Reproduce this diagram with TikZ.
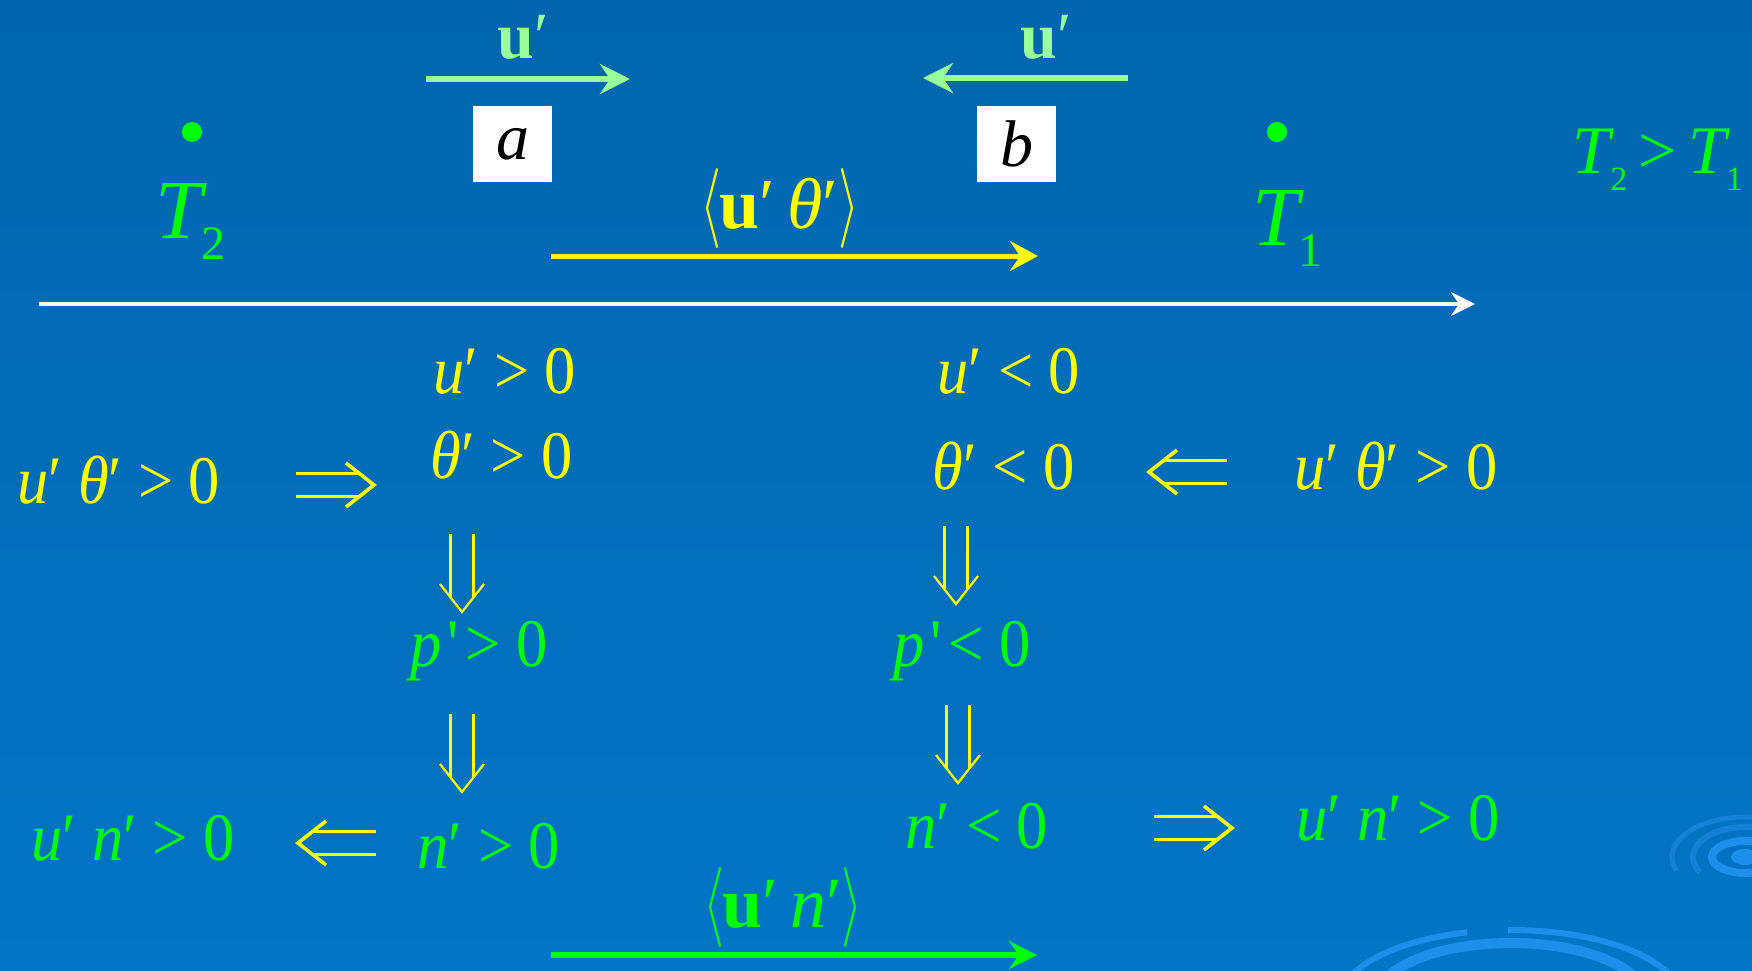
\documentclass[tikz,border=0pt]{standalone}
\usepackage{fontspec}
\setmainfont{Liberation Serif}
\usepackage{graphicx}
\usetikzlibrary{arrows.meta}
\definecolor{bgtop}{RGB}{1,102,173}
\definecolor{bgbot}{RGB}{2,117,198}
\definecolor{ylw}{RGB}{255,255,0}
\definecolor{grn}{RGB}{0,255,0}
\definecolor{lgrn}{RGB}{153,255,153}
\definecolor{swirlA}{RGB}{28,143,234}
\definecolor{swirlB}{RGB}{20,128,214}
\tikzset{
  eq/.style={inner sep=0pt, anchor=base west, font=\fontsize{34}{40}\selectfont},
  yl/.style={eq, text=ylw},
  gr/.style={eq, text=grn},
  tlabel/.style={inner sep=0pt, anchor=base west, text=grn, font=\fontsize{42}{42}\selectfont},
  dotn/.style={circle, fill=grn, inner sep=0pt, minimum size=10pt},
  letterbox/.style={fill=white, minimum width=39.5pt, minimum height=38pt, inner sep=0pt, text=black, font=\fontsize{33}{33}\selectfont},
  ulabel/.style={inner sep=0pt, anchor=base west, text=lgrn, font=\fontsize{33}{33}\selectfont},
  uarr/.style={draw=lgrn, line width=3pt, -{Stealth[length=15pt,width=15pt,inset=5pt]}},
  yarr/.style={draw=ylw, line width=2.5pt, -{Stealth[length=14pt,width=15pt,inset=5pt]}},
  warr/.style={draw=white, line width=2pt, -{Stealth[length=12pt,width=12pt,inset=4pt]}},
  garr/.style={draw=grn, line width=3pt, -{Stealth[length=14pt,width=14pt,inset=5pt]}},
  impl/.pic={\draw (-78,-11.5)--(-14,-11.5) (-78,11.5)--(-14,11.5);
             \draw[line join=miter] (-28,-22)--(0,0)--(-28,22);},
  implh/.style={color=ylw, line width=1.8pt},
  implv/.style={color=ylw, line width=1.1pt},
}
\newcommand{\lbr}{\resizebox*{10.5pt}{40pt}{$\langle$}}
\newcommand{\rbr}{\resizebox*{10.5pt}{40pt}{$\rangle$}}
\newcommand{\hs}[1]{\scalebox{0.92}[1]{#1}}
\newcommand{\pr}{\textquotesingle}
\begin{document}
\begin{tikzpicture}[x=0.5pt,y=-0.5pt]
\useasboundingbox (0,0) rectangle (1752,970);
\shade[top color=bgtop, bottom color=bgbot] (0,0) rectangle (1752,970);
% background swirls
\begin{scope}
\clip (0,0) rectangle (1752,970);
\draw[swirlA, line width=3pt] (1511,1000) ++(180:170 and 70) arc[start angle=180, end angle=255, x radius=170, y radius=70];
\draw[swirlA, line width=3pt] (1511,1000) ++(269:170 and 70) arc[start angle=269, end angle=360, x radius=170, y radius=70];
\draw[swirlA, line width=5pt] (1511,1000) ellipse[x radius=135, y radius=57];
\fill[swirlA] (1745,857) ellipse[x radius=14, y radius=8];
\draw[swirlA, line width=4pt] (1745,857) ellipse[x radius=33, y radius=16];
\draw[swirlB, line width=3pt] (1745,857) ++(150:52 and 30) arc[start angle=150, end angle=380, x radius=52, y radius=30];
\draw[swirlB, line width=2.5pt] (1745,857) ++(160:73 and 40) arc[start angle=160, end angle=370, x radius=73, y radius=40];
\end{scope}
% top u' arrows
\coordinate (ua1) at (426,79); \coordinate (ua2) at (630,79);
\coordinate (ub1) at (1128,78); \coordinate (ub2) at (923,78);
\draw[uarr] (ua1) -- (ua2);
\draw[uarr] (ub1) -- (ub2);
\node[ulabel] (ula) at (497,58) {\textbf{u}′};
\node[ulabel] (ulb) at (1020,58) {\textbf{u}′};
% boxes
\node[letterbox] (boxa) at (512.5,144) {\textit{a}};
\node[letterbox] (boxb) at (1016.5,144) {\textit{b}};
% temperatures
\node[dotn] (d2) at (192,132) {};
\node[dotn] (d1) at (1277,132) {};
\node[tlabel] (T2) at (155,238) {\textit{T}\kern-3pt\raisebox{-10.5pt}{\fontsize{24}{24}\selectfont 2}};
\node[tlabel] (T1) at (1252,245) {\textit{T}\kern-3pt\raisebox{-10.5pt}{\fontsize{24}{24}\selectfont 1}};
\node[eq, text=grn] (Tcmp) at (1572,173) {\textit{T}\kern-2pt\raisebox{-8.5pt}{\fontsize{17}{17}\selectfont 2}\,>\,\textit{T}\kern-2pt\raisebox{-8.5pt}{\fontsize{17}{17}\selectfont 1}};
% heat flux arrow
\node[yl, font=\fontsize{36}{36}\selectfont] (fluxT) at (700,228) {\lbr\kern-1pt\textbf{u}′\,\textit{θ}′\rbr};
\coordinate (y1) at (551,256); \coordinate (y2) at (1038,256);
\draw[yarr] (y1) -- (y2);
% axis
\coordinate (w1) at (39,304); \coordinate (w2) at (1475,304);
\draw[warr] (w1) -- (w2);
% left column
\node[yl] (uthL) at (17,503) {\hs{\textit{u}′ \textit{θ}′ > 0}};
\node[yl] (ugtA) at (433,393) {\hs{\textit{u}′ > 0}};
\node[yl] (thA) at (430,478) {\hs{\textit{θ}′ > 0}};
\node[gr] (pA) at (410,666) {\hs{\textit{p}\kern3pt\pr\kern4pt> 0}};
\node[gr] (nA) at (417,868) {\hs{\textit{n}′ > 0}};
\node[gr] (unL) at (31,860) {\hs{\textit{u}′ \textit{n}′ > 0}};
% right column
\node[yl] (ultB) at (937,393) {\hs{\textit{u}′ < 0}};
\node[yl] (thB) at (932,489) {\hs{\textit{θ}′ < 0}};
\node[yl] (uthR) at (1294,489) {\hs{\textit{u}′ \textit{θ}′ > 0}};
\node[gr] (pB) at (893,666) {\hs{\textit{p}\kern3pt\pr\kern4pt< 0}};
\node[gr] (nB) at (905,848) {\hs{\textit{n}′ < 0}};
\node[gr] (unR) at (1296,840) {\hs{\textit{u}′ \textit{n}′ > 0}};
% implications
\coordinate (i1) at (374,485);
\coordinate (i2) at (1149,472);
\coordinate (i3) at (298,843);
\coordinate (i4) at (1232,828);
\coordinate (i5) at (462,612);
\coordinate (i6) at (956,604);
\coordinate (i7) at (462,792);
\coordinate (i8) at (958,783);
\pic[implh] at (i1) {impl};
\pic[implh, rotate=180] at (i2) {impl};
\pic[implh, rotate=180] at (i3) {impl};
\pic[implh] at (i4) {impl};
\pic[implv, rotate=-90] at (i5) {impl};
\pic[implv, rotate=-90] at (i6) {impl};
\pic[implv, rotate=-90] at (i7) {impl};
\pic[implv, rotate=-90] at (i8) {impl};
% particle flux
\node[gr, font=\fontsize{36}{36}\selectfont] (fluxN) at (703,927) {\lbr\kern-1pt\textbf{u}′\,\textit{n}′\rbr};
\coordinate (g1) at (551,955); \coordinate (g2) at (1037,955);
\draw[garr] (g1) -- (g2);
\end{tikzpicture}
\end{document}
